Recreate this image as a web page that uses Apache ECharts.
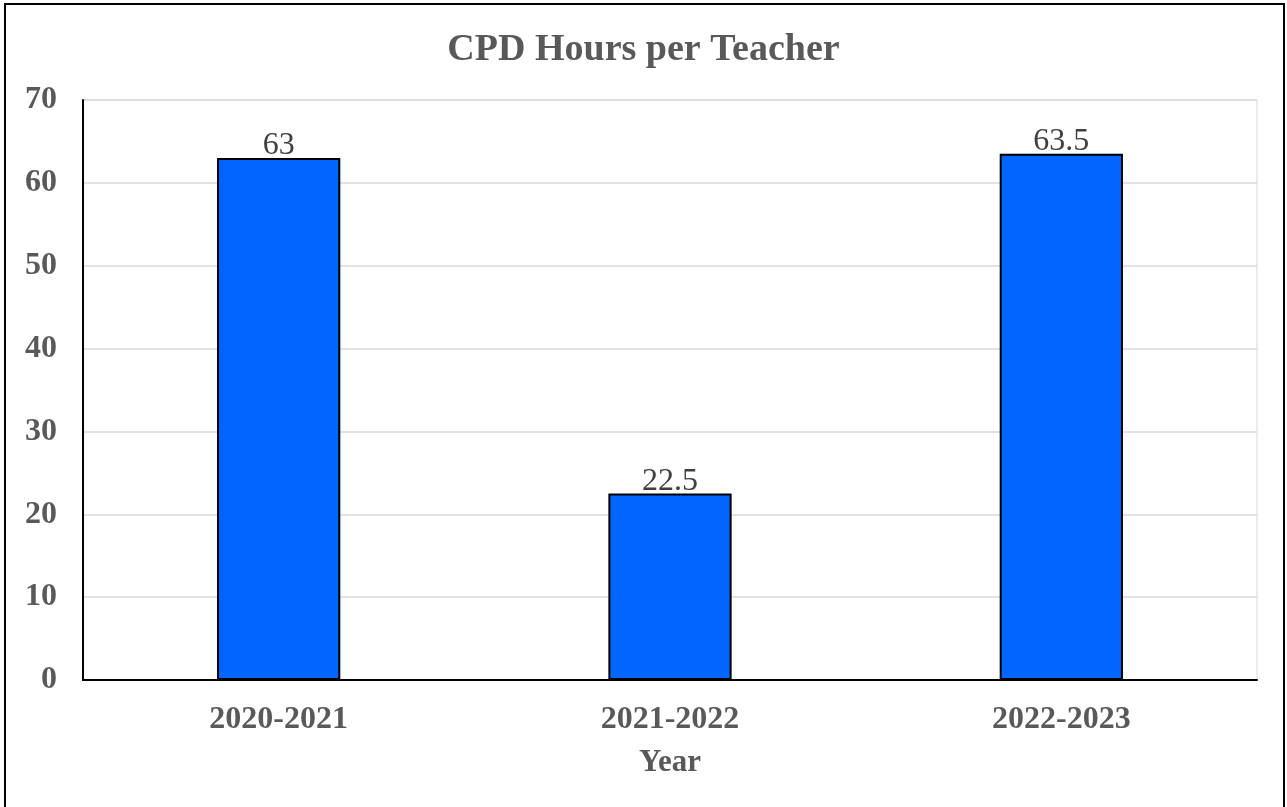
<!DOCTYPE html>
<html>
<head>
<meta charset="utf-8">
<script src="https://cdn.jsdelivr.net/npm/echarts@6/dist/echarts.min.js"></script>
<style>
  html, body { margin: 0; padding: 0; background: #fff; }
  #frame {
    position: absolute; left: 4px; top: 3px;
    width: 1281px; height: 820px;
    border: 2px solid #000; box-sizing: border-box;
  }
  #chart { position: absolute; left: 0; top: 0; width: 1287px; height: 807px; }
</style>
</head>
<body>
<div id="frame"></div>
<div id="chart"></div>
<script>
  // 数据
  const categories = ["2020-2021", "2021-2022", "2022-2023"];
  const hours = [63, 22.5, 63.5];
  const yTicks = [0, 70, 10]; // min, max, interval

  const font = "Liberation Serif";
  let myChart = echarts.init(document.getElementById("chart"));
  var option = {
    animation: false,
    title: {
      text: "CPD Hours per Teacher",
      left: "center",
      top: 26,
      textStyle: { fontFamily: font, fontSize: 38, fontWeight: "bold", color: "#595959" },
    },
    grid: {
      left: 83, right: 30, top: 100, bottom: 127,
      show: true, borderColor: "#d9d9d9", borderWidth: 1,
    },
    xAxis: {
      type: "category",
      data: categories,
      name: "Year",
      nameLocation: "middle",
      nameGap: 67,
      nameTextStyle: { fontFamily: font, fontSize: 31, fontWeight: "bold", color: "#595959" },
      axisTick: { show: false },
      axisLine: { lineStyle: { color: "#000", width: 2 } },
      axisLabel: { fontFamily: font, fontSize: 32, fontWeight: "bold", color: "#595959", margin: 24 },
    },
    yAxis: {
      type: "value",
      min: yTicks[0], max: yTicks[1], interval: yTicks[2],
      axisLine: { show: true, lineStyle: { color: "#000", width: 2 } },
      axisTick: { show: false },
      splitLine: { lineStyle: { color: "#d9d9d9", width: 1.5 } },
      axisLabel: { fontFamily: font, fontSize: 32, fontWeight: "bold", color: "#595959", margin: 26, padding: [4, 0, 0, 0] },
    },
    series: [
      {
        type: "bar",
        data: hours,
        barWidth: "31.5%",
        itemStyle: { color: "#0066ff", borderColor: "#000", borderWidth: 2 },
        label: {
          show: true, position: "top", distance: 0, offset: [0, 4],
          fontFamily: font, fontSize: 32, color: "#404040",
        },
      },
    ],
  };
  option && myChart.setOption(option);
</script>
</body>
</html>
